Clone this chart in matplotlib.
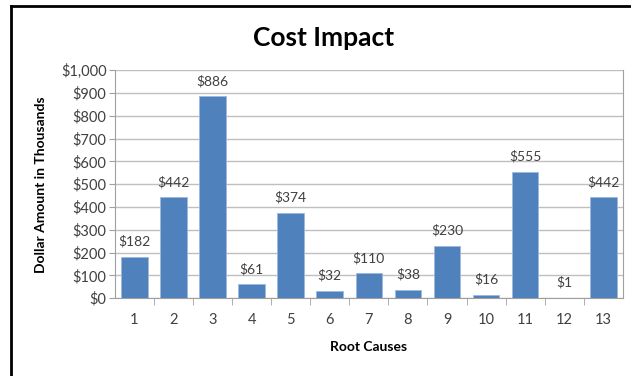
import matplotlib.pyplot as plt
from matplotlib.lines import Line2D

# данные
causes = ['1', '2', '3', '4', '5', '6', '7', '8', '9', '10', '11', '12', '13']
cost = [182, 442, 886, 61, 374, 32, 110, 38, 230, 16, 555, 1, 442]
yticks = [0, 100, 200, 300, 400, 500, 600, 700, 800, 900, 1000]

plt.rcParams['font.family'] = ['Lato', 'DejaVu Sans']

fig = plt.figure(figsize=(6.31, 3.76), dpi=100)
ax = fig.add_axes([0.182, 0.207, 0.805, 0.606])

x = list(range(len(causes)))
bars = ax.bar(x, cost, width=0.68, color='#4F81BD', edgecolor='#9DB9DD', linewidth=0.6, zorder=3)

# подписи над столбиками
for xi, v in zip(x, cost):
    ax.annotate(f"${v}", (xi, v), xytext=(0, 6.5), textcoords='offset points',
                ha='center', va='bottom', fontsize=10, color='#404040')

ax.set_xlim(-0.5, len(causes) - 0.5)
ax.set_ylim(0, 1000)
ax.set_yticks(yticks)
ax.set_yticklabels([f"${t:,}" for t in yticks])
ax.set_xticks(x)
ax.set_xticklabels(causes)
ax.tick_params(axis='x', length=0, pad=11, labelsize=10.5, labelcolor='#404040')
ax.tick_params(axis='y', length=4, color='#A0A0A0', labelsize=10.5, labelcolor='#404040', pad=2)

# засечки между категориями
ax.set_xticks([i + 0.5 for i in x[:-1]], minor=True)
ax.tick_params(axis='x', which='minor', length=5, color='#A0A0A0')

ax.grid(axis='y', color='#BFBFBF', linewidth=1, zorder=0)
ax.spines['top'].set_visible(False)
for s in ['left', 'bottom', 'right']:
    ax.spines[s].set_color('#A0A0A0')

ax.set_xlabel('Root Causes', fontsize=10, fontweight='bold', labelpad=10)
ax.set_ylabel('Dollar Amount in Thousands', fontsize=10, fontweight='bold', labelpad=10)
fig.text(0.513, 0.9, 'Cost Impact', ha='center', va='center', fontsize=19, fontweight='bold')

# рамка
fig.add_artist(Line2D([11 / 631, 11 / 631], [0, 1 - 6 / 376], color='black', linewidth=2))
fig.add_artist(Line2D([11 / 631, 1], [1 - 6 / 376, 1 - 6 / 376], color='black', linewidth=2))

plt.savefig('out.png', dpi=100)
